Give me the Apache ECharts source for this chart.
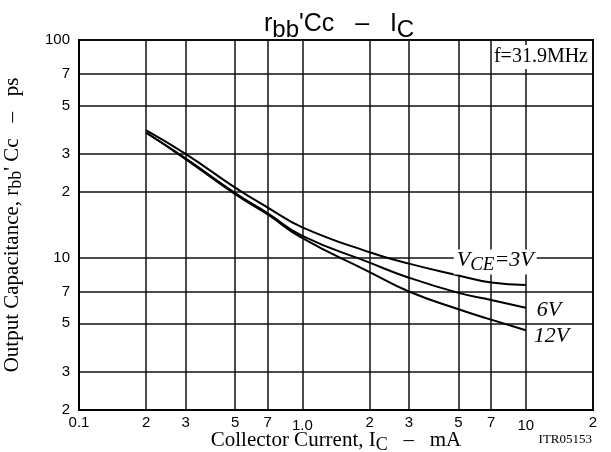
<!DOCTYPE html>
<html>
<head>
<meta charset="utf-8">
<script src="https://cdn.jsdelivr.net/npm/echarts@6/dist/echarts.min.js"></script>
<style>
html, body { margin: 0; padding: 0; background: #fff; }
#chart { width: 611px; height: 452px; }
</style>
</head>
<body>
<div id="chart"></div>
<script>
// collector current, mA
const currents = [0.2, 0.3, 0.5, 0.7, 1, 2, 3, 5, 7, 10]
// rbb'Cc (ps) for each VCE
const cap3V = [38.5, 30.0, 21.0, 17.0, 13.8, 10.6, 9.4, 8.3, 7.7, 7.5]
const cap6V = [37.5, 28.6, 19.8, 16.0, 12.6, 9.5, 8.1, 6.9, 6.4, 5.9]
const cap12V = [37.5, 28.4, 19.6, 15.8, 12.3, 8.6, 7.0, 5.8, 5.2, 4.65]

const xTicks = [0.1, 0.2, 0.3, 0.5, 0.7, 1, 2, 3, 5, 7, 10, 20]
const xTickLabels = ['0.1', '2', '3', '5', '7', '1.0', '2', '3', '5', '7', '10', '2']
const yTicks = [2, 3, 5, 7, 10, 20, 30, 50, 70, 100]
const yTickLabels = ['2', '3', '5', '7', '10', '2', '3', '5', '7', '100']

const serif = 'Liberation Serif'
const sans = 'Liberation Sans'

function pick(ticks, labels, lowered) {
	return function (v) {
		const i = ticks.findIndex(t => Math.abs(t - v) < t * 1e-6)
		if (i < 0) return ''
		const s = labels[i]
		// on the x axis 1.0 and 10 sit a little lower in the original
		return (lowered && (s === '1.0' || s === '10')) ? '{low|' + s + '}' : s
	}
}

// rich-text helper: subscripts are pushed down with a top padding
function txt(family, size, extra) {
	return Object.assign({ fontFamily: family, fontSize: size, fontWeight: 'normal', color: '#000', verticalAlign: 'top' }, extra || {})
}

function curve(name, values, label, offset, bg) {
	return {
		name: name,
		type: 'line',
		symbol: 'none',
		smooth: 0.5,
		data: currents.map((c, i) => [c, values[i]]),
		lineStyle: { color: '#000', width: 2 },
		endLabel: {
			show: true,
			formatter: label,
			offset: offset,
			backgroundColor: bg ? '#fff' : 'transparent',
			padding: bg ? [0, 3] : 0,
			rich: {
				v: txt(serif, 22, { fontStyle: 'italic' }),
				s: txt(serif, 19, { fontStyle: 'italic', padding: [6, 0, 0, 0] })
			}
		},
		z: 5
	}
}

const chart = echarts.init(document.getElementById('chart'))
chart.setOption({
	animation: false,
	backgroundColor: '#fff',
	title: {
		text: "{a|r}{s|bb}{a|'Cc   –   I}{s|C}",
		left: 259,
		top: 7,
		textStyle: {
			fontWeight: 'normal',
			rich: {
				a: txt(sans, 25),
				s: txt(sans, 24, { padding: [6, 0, 0, 0] })
			}
		}
	},
	grid: {
		left: 79, right: 18, top: 40, bottom: 42,
		show: true, borderColor: '#000', borderWidth: 2,
		outerBoundsMode: 'none'
	},
	xAxis: {
		type: 'log',
		logBase: 10,
		min: 0.1,
		max: 20,
		name: '{n|Collector Current, I}{s|C}{n|   –   mA}',
		nameLocation: 'middle',
		nameGap: 20,
		nameMoveOverlap: false,
		nameTextStyle: {
			rich: {
				n: txt(serif, 21),
				s: txt(serif, 18, { padding: [6, 0, 0, 0] })
			}
		},
		axisLine: { show: true, lineStyle: { color: '#000', width: 2 } },
		axisTick: { show: false, customValues: xTicks },
		axisLabel: {
			customValues: xTicks,
			formatter: pick(xTicks, xTickLabels, true),
			fontFamily: sans,
			fontSize: 15,
			color: '#000',
			margin: 5,
			rich: { low: { fontFamily: sans, fontSize: 15, color: '#000', padding: [3, 0, 0, 0] } }
		},
		splitLine: { show: true, lineStyle: { color: '#111', width: 1.5 } }
	},
	yAxis: {
		type: 'log',
		logBase: 10,
		min: 2,
		max: 100,
		name: "{n|Output Capacitance, r}{s|bb}{n|' Cc   –   ps}",
		nameLocation: 'middle',
		nameGap: 54,
		nameMoveOverlap: false,
		nameTextStyle: {
			rich: {
				n: txt(serif, 21),
				s: txt(serif, 18, { padding: [5, 0, 0, 0] })
			}
		},
		axisLine: { show: true, lineStyle: { color: '#000', width: 2 } },
		axisTick: { show: false, customValues: yTicks },
		axisLabel: {
			customValues: yTicks,
			formatter: pick(yTicks, yTickLabels, false),
			fontFamily: sans,
			fontSize: 15,
			color: '#000',
			margin: 9
		},
		splitLine: { show: true, lineStyle: { color: '#111', width: 1.5 } }
	},
	graphic: [
		{
			type: 'text',
			right: 21,
			top: 45,
			z: 10,
			style: {
				text: 'f=31.9MHz',
				font: '20px "Liberation Serif"',
				fill: '#000',
				backgroundColor: '#fff',
				padding: [2, 2]
			}
		},
		{
			type: 'text',
			right: 19,
			top: 433,
			style: {
				text: 'ITR05153',
				font: '13px "Liberation Serif"',
				fill: '#000'
			}
		}
	],
	series: [
		curve('3V', cap3V, '{v|V}{s|CE}{v|=3V}', [-80, -23], true),
		curve('6V', cap6V, '{v|6V}', [3, 3], false),
		curve('12V', cap12V, '{v|12V}', [0, 6], false)
	]
})
</script>
</body>
</html>
